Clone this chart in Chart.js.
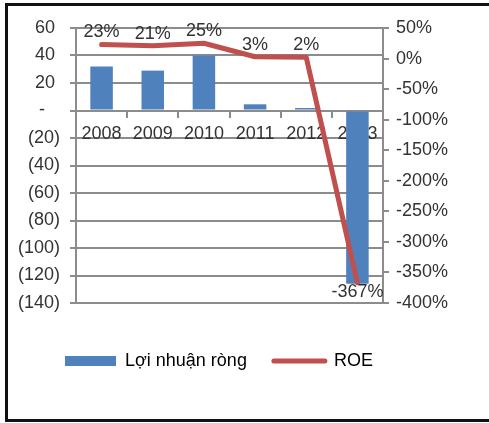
<!DOCTYPE html>
<html>
<head>
<meta charset="utf-8">
<script src="https://cdn.jsdelivr.net/npm/chart.js@4.4.0/dist/chart.umd.min.js"></script>
<style>
  html, body { margin: 0; background: #fff; overflow: hidden; }
  #frame { position: absolute; left: 5px; top: 3px; width: 490px; height: 413px; border: 3px solid #111; border-right: none; }
  #roeChart { position: absolute; left: 0; top: 0; }
</style>
</head>
<body>
<div id="frame"></div>
<canvas id="roeChart" width="489" height="423"></canvas>
<script>
// Net profit (bars, left axis) and ROE in % (line, right axis)
const years = ['2008', '2009', '2010', '2011', '2012', '2013'];
const netProfit = [32, 29, 40, 4.5, 1.8, -126];
const roe = [23, 21, 25, 3, 2, -367];

const profitTicks = [60, 40, 20, 0, -20, -40, -60, -80, -100, -120, -140];
const roeTicks = [50, 0, -50, -100, -150, -200, -250, -300, -350, -400];

const gridGray = '#8c8c8c';
const textColor = '#333';

Chart.defaults.font.family = "'Liberation Sans', Arial, sans-serif";
Chart.defaults.font.size = 18;
Chart.defaults.color = textColor;

// accounting style: 0 -> "-", negatives in brackets
function accounting(v) {
    if (v === 0) return '-   ';
    if (v < 0) return '(' + (-v) + ')';
    return v + ' ';
}

// percent labels above the ROE points (below for negatives)
const roeLabels = {
    id: 'roeLabels',
    afterDraw(chart) {
        const meta = chart.getDatasetMeta(1);
        const c = chart.ctx;
        c.save();
        c.font = "18px 'Liberation Sans', Arial, sans-serif";
        c.fillStyle = textColor;
        c.textAlign = 'center';
        c.textBaseline = 'middle';
        meta.data.forEach((pt, i) => {
            const v = roe[i];
            c.fillText(v + '%', pt.x, v >= 0 ? pt.y - 12 : pt.y + 9);
        });
        c.restore();
    }
};

// legend sits a bit lower and further right than the default bottom box
const legendOffset = {
    id: 'legendOffset',
    afterLayout(chart) {
        const lg = chart.legend;
        lg.left += 38;
        lg.right += 38;
        lg.top += 22;
        lg.bottom += 22;
    }
};

new Chart(document.getElementById('roeChart'), {
    type: 'bar',
    data: {
        labels: years,
        datasets: [{
            label: 'Lợi nhuận ròng',
            data: netProfit,
            backgroundColor: '#4F81BD',
            barPercentage: 0.44,
            categoryPercentage: 1,
            yAxisID: 'y',
            order: 1
        }, {
            type: 'line',
            label: 'ROE',
            data: roe,
            borderColor: '#C0504D',
            backgroundColor: '#C0504D',
            borderWidth: 5,
            borderCapStyle: 'round',
            borderJoinStyle: 'round',
            pointRadius: 0,
            tension: 0,
            yAxisID: 'y1',
            order: 0
        }]
    },
    options: {
        responsive: false,
        animation: false,
        layout: { padding: { left: 0, top: 28, right: 0, bottom: 65 } },
        scales: {
            x: {
                position: { y: 0 },
                offset: true,
                z: 1,
                grid: { offset: true, drawOnChartArea: false, tickLength: 6, color: gridGray, lineWidth: 2 },
                border: { display: true, color: gridGray, width: 2 },
                ticks: { padding: 7, maxRotation: 0, autoSkip: false }
            },
            y: {
                position: 'left',
                min: Math.min(...profitTicks),
                max: Math.max(...profitTicks),
                ticks: { stepSize: 20, padding: 10, callback: accounting },
                grid: { color: gridGray, lineWidth: 2, tickLength: 6 },
                border: { display: true, color: gridGray, width: 2 },
                afterFit(scale) { scale.width = 76; }
            },
            y1: {
                position: 'right',
                min: Math.min(...roeTicks),
                max: Math.max(...roeTicks),
                ticks: { stepSize: 50, padding: 7, callback: v => v + '%' },
                grid: { drawOnChartArea: false, color: gridGray, lineWidth: 2, tickLength: 6 },
                border: { display: true, color: gridGray, width: 2 },
                afterFit(scale) { scale.width = 106; }
            }
        },
        plugins: {
            tooltip: { enabled: false },
            legend: {
                position: 'bottom',
                align: 'start',
                labels: {
                    usePointStyle: true,
                    pointStyleWidth: 51,
                    boxHeight: 10,
                    padding: 27,
                    color: textColor,
                    generateLabels(chart) {
                        const ds = chart.data.datasets;
                        return [{
                            text: ds[0].label,
                            fillStyle: ds[0].backgroundColor,
                            strokeStyle: ds[0].backgroundColor,
                            lineWidth: 0,
                            pointStyle: 'rect',
                            datasetIndex: 0,
                            hidden: false
                        }, {
                            text: ds[1].label,
                            fillStyle: ds[1].borderColor,
                            strokeStyle: ds[1].borderColor,
                            lineWidth: 5,
                            lineCap: 'round',
                            pointStyle: 'line',
                            datasetIndex: 1,
                            hidden: false
                        }];
                    }
                }
            }
        }
    },
    plugins: [roeLabels, legendOffset]
});
</script>
</body>
</html>
